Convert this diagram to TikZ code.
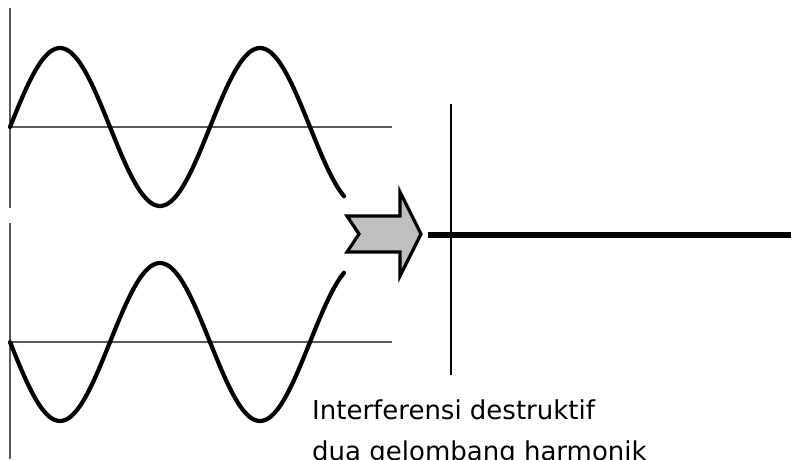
\documentclass[tikz,border=0pt]{standalone}
\usepackage{fontspec}
\setmainfont{DejaVu Sans}
\begin{document}
\begin{tikzpicture}[x=1pt,y=-1pt,
  wave/.style={line width=4.2pt, line cap=round, line join=round},
  axis/.style={line width=1.2pt, draw=black!65},
  arrowbox/.style={draw=black, fill=black!25, line width=3.2pt, line join=miter},
  caption/.style={anchor=base west, inner sep=0pt, font=\fontsize{26}{30}\selectfont}]
\useasboundingbox (0,0) rectangle (791,459);
% top wave
\coordinate (t0) at (10,8);
\coordinate (t1) at (10,208);
\coordinate (th0) at (10,127);
\coordinate (th1) at (392,127);
\draw[axis] (t0) -- (t1);
\draw[axis] (th0) -- (th1);
\draw[wave] plot[domain=10:344, samples=120, smooth] (\x, {127 - 79*sin(1.8*(\x-10))});
% bottom wave
\coordinate (b0) at (10,223);
\coordinate (b1) at (10,459);
\coordinate (bh0) at (10,342);
\coordinate (bh1) at (392,342);
\draw[axis] (b0) -- (b1);
\draw[axis] (bh0) -- (bh1);
\draw[wave] plot[domain=10:344, samples=120, smooth] (\x, {342 + 79*sin(1.8*(\x-10))});
% arrow
\draw[arrowbox] (347,216) -- (359,234) -- (347,252) -- (400,252) -- (400,276) -- (421,234) -- (400,192) -- (400,216) -- cycle;
% result
\coordinate (r0) at (450.5,104);
\coordinate (r1) at (450.5,375);
\coordinate (s0) at (428,234.7);
\coordinate (s1) at (791,234.7);
\draw[line width=2pt] (r0) -- (r1);
\draw[line width=6pt] (s0) -- (s1);
% caption
\node[caption] (line1) at (312,419) {Interferensi destruktif};
\node[caption] (line2) at (312,460) {dua gelombang harmonik};
\end{tikzpicture}
\end{document}
